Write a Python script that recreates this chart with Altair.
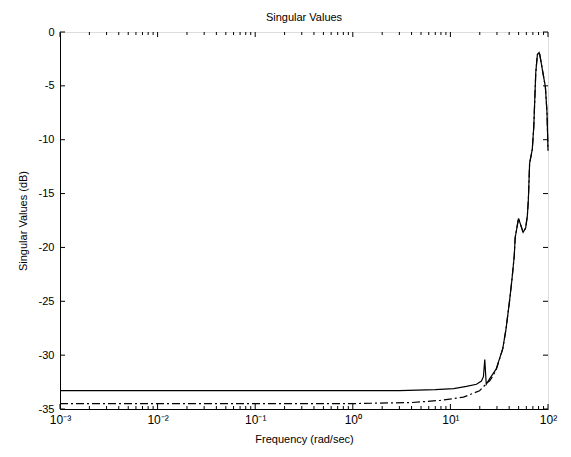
import altair as alt
import pandas as pd

# ---- data ----
solid_freq = [0.001, 0.01, 0.1, 1, 3, 7, 10.8, 14.6, 18.5, 20.8, 21.8, 22.5, 23.3, 25.2,
              29.4, 34.4, 37.1, 40.2, 42.7, 45.1, 46.1, 49.9, 55.6, 59.0, 61.4, 62.9,
              64.8, 69.0, 71.5, 74.9, 77.8, 81.0, 82.4, 88.0, 94.0, 97.7, 100.0]
solid_db = [-33.3, -33.3, -33.3, -33.3, -33.3, -33.2, -33.1, -32.9, -32.7, -32.4, -32.0, -30.4, -32.7, -32.2,
            -31.3, -29.4, -27.6, -25.1, -23.0, -20.8, -19.1, -17.3, -18.6, -18.2, -17.1, -15.6,
            -12.2, -10.9, -8.8, -3.8, -2.1, -1.9, -2.1, -3.6, -5.1, -7.5, -11.0]

dashdot_freq = [0.001, 0.01, 0.1, 1, 4, 7.9, 13.6, 19.9, 22.5, 24.3, 25.2, 27.0, 29.4,
                34.4, 37.1, 40.2, 42.7, 45.1, 46.1, 49.9, 55.6, 59.0, 61.4, 62.9,
                64.8, 69.0, 71.5, 74.9, 77.8, 81.0, 82.4, 88.0, 94.0, 97.7, 100.0]
dashdot_db = [-34.5, -34.5, -34.5, -34.5, -34.4, -34.2, -33.9, -33.3, -32.8, -32.5, -32.4, -32.0, -31.4,
              -29.4, -27.6, -25.1, -23.0, -20.8, -19.1, -17.3, -18.6, -18.2, -17.1, -15.6,
              -12.2, -10.9, -8.8, -3.8, -2.1, -1.9, -2.1, -3.6, -5.1, -7.5, -11.0]

x_major = [0.001, 0.01, 0.1, 1, 10, 100]
x_labels = ["10⁻³", "10⁻²", "10⁻¹", "10⁰", "10¹", "10²"]
x_minor = [m * 10.0 ** e for e in range(-3, 2) for m in range(2, 10)]
y_ticks = [0, -5, -10, -15, -20, -25, -30, -35]

W, H = 488, 377
FONT = "Liberation Sans"

solid_df = pd.DataFrame({"f": solid_freq, "db": solid_db})
dd_df = pd.DataFrame({"f": dashdot_freq, "db": dashdot_db})
xmaj_df = pd.DataFrame({"f": x_major})
xmin_df = pd.DataFrame({"f": x_minor})
yt_df = pd.DataFrame({"db": y_ticks})

expr = ""
for v, lab in zip(x_major[:-1], x_labels[:-1]):
    expr += f"datum.value < {v * 3} ? '{lab}' : "
expr += f"'{x_labels[-1]}'"

xs = alt.Scale(type="log", domain=[0.001, 100])
ys = alt.Scale(domain=[-35, 0], nice=False, zero=False)

x_axis = alt.Axis(values=x_major, labelExpr=expr, ticks=False, tickSize=0, grid=False,
                  title="Frequency (rad/sec)", labelPadding=5, titlePadding=8,
                  labelFontSize=12, titleFontSize=11, titleFontWeight="normal",
                  labelFont=FONT, titleFont=FONT, labelColor="black", titleColor="black",
                  domainColor="black", labelFlush=False)
y_axis = alt.Axis(values=y_ticks, labelExpr="datum.value + ''", ticks=False, tickSize=0, grid=False,
                  title="Singular Values (dB)", labelPadding=6, titlePadding=10,
                  labelFontSize=11, titleFontSize=11, titleFontWeight="normal",
                  labelFont=FONT, titleFont=FONT, labelColor="black", titleColor="black",
                  domainColor="black")

dd_line = alt.Chart(dd_df).mark_line(color="black", strokeWidth=1.2, strokeDash=[8, 3, 2, 3]).encode(
    x=alt.X("f:Q", scale=xs, axis=x_axis),
    y=alt.Y("db:Q", scale=ys, axis=y_axis),
    order="f:Q",
)
solid_line = alt.Chart(solid_df).mark_line(color="black", strokeWidth=1.2).encode(
    x=alt.X("f:Q", scale=xs),
    y=alt.Y("db:Q", scale=ys),
    order="f:Q",
)

def xticks(df, length):
    bot = alt.Chart(df).mark_rule(color="black", strokeWidth=1).encode(
        x=alt.X("f:Q", scale=xs), y=alt.value(H), y2=alt.value(H - length))
    top = alt.Chart(df).mark_rule(color="black", strokeWidth=1).encode(
        x=alt.X("f:Q", scale=xs), y=alt.value(0), y2=alt.value(length))
    return bot + top

yl = alt.Chart(yt_df).mark_rule(color="black", strokeWidth=1).encode(
    y=alt.Y("db:Q", scale=ys), x=alt.value(0), x2=alt.value(5))
yr = alt.Chart(yt_df).mark_rule(color="black", strokeWidth=1).encode(
    y=alt.Y("db:Q", scale=ys), x=alt.value(W), x2=alt.value(W - 5))

chart = alt.layer(
    dd_line, solid_line, xticks(xmaj_df, 5), xticks(xmin_df, 3), yl, yr
).properties(
    width=W, height=H,
    title=alt.TitleParams("Singular Values", fontSize=11, fontWeight="normal", font=FONT,
                          color="black", offset=3, anchor="middle"),
    autosize=alt.AutoSizeParams(type="none"),
    padding={"left": 52, "top": 24, "right": 15, "bottom": 40},
).configure_view(
    stroke="black", strokeWidth=1
).configure(background="white")

chart.save("out.html", embed_options={"renderer": "svg", "actions": False})
